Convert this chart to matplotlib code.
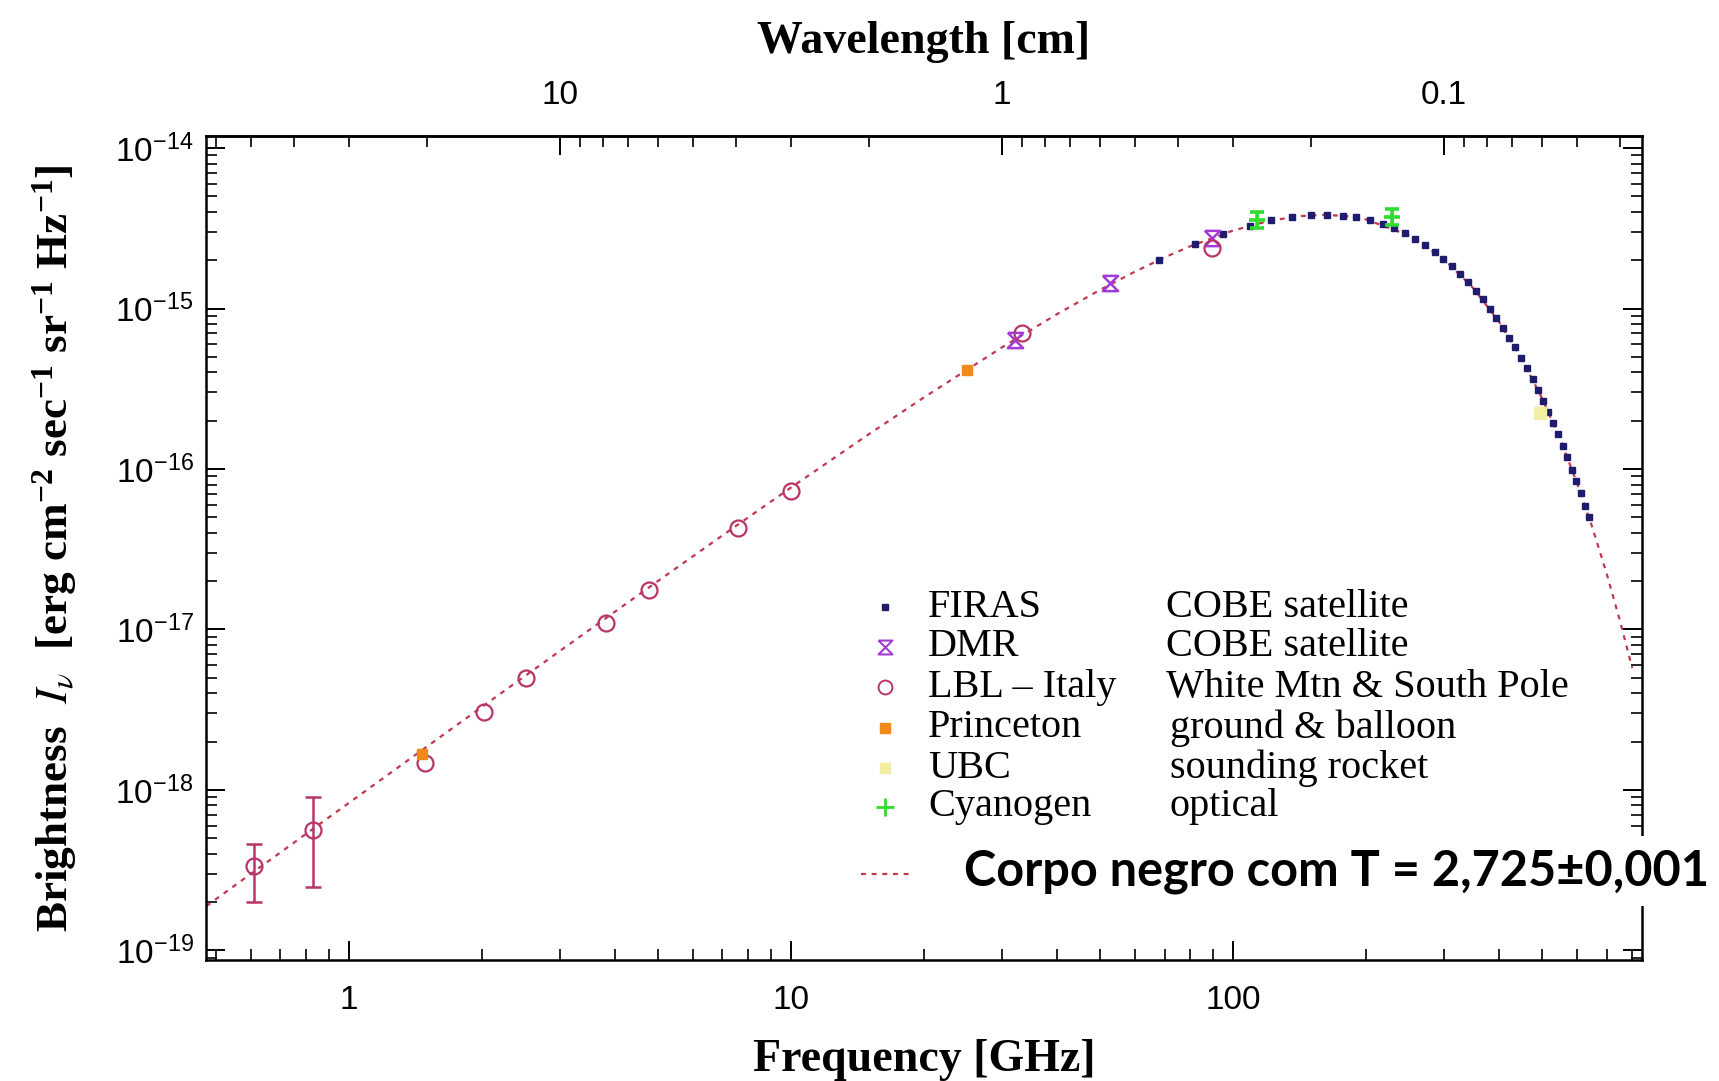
"""CMB spectrum: brightness vs frequency, with the T = 2.725 K blackbody curve."""

import numpy as np
import matplotlib
matplotlib.use("Agg")
import matplotlib.pyplot as plt
import matplotlib.ticker as mticker

C_GHZ_CM = 29.979  # c in GHz*cm, frequency <-> wavelength

# ── Data ────────────────────────────────────────────────────────────────
# dotted blackbody line
BB_FREQ = [0.476, 0.6, 0.8, 1, 1.5, 2, 3, 5, 7, 10, 15, 20, 30, 40, 50, 60,
           70, 80, 100, 120, 140, 160, 180, 200, 250, 300, 350, 400, 450,
           500, 550, 600, 650, 700, 750, 800]
BB_BRIGHT = [1.889e-19, 2.998e-19, 5.320e-19, 8.299e-19, 1.859e-18, 3.290e-18,
             7.338e-18, 2.002e-17, 3.855e-17, 7.657e-17, 1.646e-16, 2.794e-16,
             5.719e-16, 9.227e-16, 1.305e-15, 1.697e-15, 2.081e-15, 2.442e-15,
             3.059e-15, 3.502e-15, 3.757e-15, 3.837e-15, 3.770e-15, 3.589e-15,
             2.855e-15, 2.031e-15, 1.334e-15, 8.241e-16, 4.860e-16, 2.764e-16,
             1.526e-16, 8.208e-17, 4.328e-17, 2.241e-17, 1.143e-17, 5.75e-18]

FIRAS_FREQ = [68, 82, 95, 109, 122, 136, 150, 163, 177, 190, 204, 218, 231,
              245, 258, 272, 286, 299, 313, 326, 340, 354, 367, 381, 394, 408,
              422, 435, 449, 462, 476, 490, 503, 517, 530, 544, 558, 571, 585,
              598, 612, 626, 639]
FIRAS_BRIGHT = [2.005e-15, 2.511e-15, 2.920e-15, 3.281e-15, 3.536e-15, 3.720e-15,
                3.817e-15, 3.835e-15, 3.789e-15, 3.692e-15, 3.543e-15, 3.359e-15,
                3.165e-15, 2.939e-15, 2.722e-15, 2.486e-15, 2.255e-15, 2.046e-15,
                1.833e-15, 1.645e-15, 1.458e-15, 1.285e-15, 1.139e-15, 9.954e-16,
                8.753e-16, 7.594e-16, 6.566e-16, 5.720e-16, 4.916e-16, 4.260e-16,
                3.641e-16, 3.104e-16, 2.671e-16, 2.266e-16, 1.942e-16, 1.641e-16,
                1.384e-16, 1.180e-16, 9.915e-17, 8.424e-17, 7.057e-17, 5.902e-17,
                4.991e-17]

DMR_FREQ = [32.1, 52.7, 89.5]
DMR_BRIGHT = [6.37e-16, 1.44e-15, 2.74e-15]

LBL_FREQ = [0.61, 0.83, 1.49, 2.02, 2.51, 3.82, 4.77, 7.58, 10.0, 33.3, 89.5]
LBL_BRIGHT = [3.36e-19, 5.6e-19, 1.47e-18, 3.05e-18, 5.0e-18, 1.10e-17,
              1.77e-17, 4.27e-17, 7.29e-17, 7.02e-16, 2.38e-15]
# the two lowest LBL points carry visible error bars
LBL_BAR_FREQ = [0.61, 0.83]
LBL_BAR_BRIGHT = [3.36e-19, 5.6e-19]
LBL_BAR_LOW = [2.0e-19, 2.5e-19]
LBL_BAR_HIGH = [4.6e-19, 9.0e-19]

PRINCETON_FREQ = [1.46, 25.0]
PRINCETON_BRIGHT = [1.68e-18, 4.14e-16]

UBC_FREQ = [495]
UBC_BRIGHT = [2.23e-16]

CYANOGEN_FREQ = [113.1, 228.6]
CYANOGEN_BRIGHT = [3.56e-15, 3.73e-15]
CYANOGEN_LOW = [3.17e-15, 3.32e-15]
CYANOGEN_HIGH = [3.99e-15, 4.18e-15]

FREQ_TICKS = [1, 10, 100]
BRIGHT_TICKS = [1e-19, 1e-18, 1e-17, 1e-16, 1e-15, 1e-14]
WAVELENGTH_TICKS = [10, 1, 0.1]

LEGEND_NAMES = ["FIRAS", "DMR", "LBL \u2013 Italy", "Princeton", "UBC", "Cyanogen"]
LEGEND_SOURCES = ["COBE satellite", "COBE satellite", "White Mtn & South Pole",
                  "ground & balloon", "sounding rocket", "optical"]
BB_LABEL = "Corpo negro com T = 2,725\u00b10,001"

# ── Style ──────────────────────────────────────────────────────────────
C_FIRAS = "#1f1c6e"
C_DMR = "#a23bd6"
C_LBL = "#b8356a"
C_PRINCETON = "#f08a1c"
C_UBC = "#f3eea2"
C_CYAN = "#2fdc2f"
C_BB = "#c0394f"

HOURGLASS = [(-1, 1), (1, 1), (-1, -1), (1, -1), (-1, 1)]

SERIF = ["Liberation Serif", "DejaVu Serif"]
TICKFONT = ["Liberation Sans Narrow", "Liberation Sans"]

plt.rcParams["font.family"] = SERIF
plt.rcParams["mathtext.fontset"] = "stix"
plt.rcParams["axes.unicode_minus"] = False


def nu_to_lambda(x):
    x = np.asarray(x, dtype=float)
    with np.errstate(divide="ignore"):
        return C_GHZ_CM / x


def main():
    fig = plt.figure(figsize=(17.19, 10.81), dpi=100, facecolor="white")
    ax = fig.add_axes([0.11984, 0.11193, 0.95521 - 0.11984, 0.87419 - 0.11193])

    ax.set_xscale("log")
    ax.set_yscale("log")
    ax.set_xlim(0.475, 842)
    ax.set_ylim(10 ** -19.06, 10 ** -13.925)

    # blackbody line
    ax.plot(BB_FREQ, BB_BRIGHT, color=C_BB, linestyle=(0, (2.2, 2.6)),
            linewidth=1.6, zorder=2)

    # data sets
    ax.plot(FIRAS_FREQ, FIRAS_BRIGHT, linestyle="none", marker="s",
            markersize=4.2, color=C_FIRAS, zorder=4)
    ax.plot(DMR_FREQ, DMR_BRIGHT, linestyle="none", marker=HOURGLASS,
            markersize=11, markerfacecolor="none", markeredgecolor=C_DMR,
            markeredgewidth=1.8, zorder=4)
    ax.plot(LBL_FREQ, LBL_BRIGHT, linestyle="none", marker="o",
            markersize=11.5, markerfacecolor="none", markeredgecolor=C_LBL,
            markeredgewidth=1.6, zorder=4)
    bar_lo = np.array(LBL_BAR_BRIGHT) - np.array(LBL_BAR_LOW)
    bar_hi = np.array(LBL_BAR_HIGH) - np.array(LBL_BAR_BRIGHT)
    ax.errorbar(LBL_BAR_FREQ, LBL_BAR_BRIGHT, yerr=[bar_lo, bar_hi],
                fmt="none", ecolor=C_LBL, elinewidth=1.8, capsize=6,
                capthick=1.8, zorder=3)
    ax.plot(PRINCETON_FREQ, PRINCETON_BRIGHT, linestyle="none", marker="s",
            markersize=7, color=C_PRINCETON, zorder=4)
    ax.plot(UBC_FREQ, UBC_BRIGHT, linestyle="none", marker="s",
            markersize=8, color=C_UBC, zorder=4)
    cy_lo = np.array(CYANOGEN_BRIGHT) - np.array(CYANOGEN_LOW)
    cy_hi = np.array(CYANOGEN_HIGH) - np.array(CYANOGEN_BRIGHT)
    ax.errorbar(CYANOGEN_FREQ, CYANOGEN_BRIGHT, yerr=[cy_lo, cy_hi],
                fmt="+", color=C_CYAN, markersize=12, markeredgewidth=2.6,
                elinewidth=1.8, capsize=5, capthick=1.8, zorder=5)

    # ── axes formatting ───────────────────────────────────────────────
    for sp in ax.spines.values():
        sp.set_linewidth(1.8)

    ax.xaxis.set_major_locator(mticker.FixedLocator(FREQ_TICKS))
    ax.yaxis.set_major_locator(mticker.FixedLocator(BRIGHT_TICKS))
    ax.xaxis.set_minor_locator(mticker.LogLocator(subs=np.arange(2, 10), numticks=20))
    ax.yaxis.set_minor_locator(mticker.LogLocator(subs=np.arange(2, 10), numticks=20))
    ax.xaxis.set_major_formatter(mticker.FuncFormatter(lambda v, _: f"{v:g}"))
    ax.yaxis.set_major_formatter(mticker.LogFormatterSciNotation())
    ax.xaxis.set_minor_formatter(mticker.NullFormatter())
    ax.yaxis.set_minor_formatter(mticker.NullFormatter())

    ax.tick_params(which="both", direction="in", top=False, right=True,
                   labelsize=24, labelfontfamily=TICKFONT)
    ax.tick_params(which="major", length=14, width=1.4)
    ax.tick_params(which="minor", length=8, width=1.2)
    ax.tick_params(axis="x", pad=18)
    ax.tick_params(axis="y", pad=9)

    ax.set_xlabel("Frequency [GHz]", fontsize=33, fontweight="bold")
    ax.xaxis.set_label_coords(0.5, -0.096)
    ax.set_ylabel(r"Brightness  $I_\nu$  [erg cm$\mathdefault{^{-2}}$ sec$\mathdefault{^{-1}}$ "
                  r"sr$\mathdefault{^{-1}}$ Hz$\mathdefault{^{-1}}$]",
                  fontsize=32.5, fontweight="bold")
    ax.yaxis.set_label_coords(-0.0885, 0.5)

    # wavelength axis on top
    sec = ax.secondary_xaxis("top", functions=(nu_to_lambda, nu_to_lambda))
    sec.set_xticks(WAVELENGTH_TICKS)
    sec.xaxis.set_major_formatter(mticker.FuncFormatter(lambda v, _: f"{v:g}"))
    sec.xaxis.set_minor_locator(mticker.LogLocator(subs=np.arange(2, 10), numticks=20))
    sec.xaxis.set_minor_formatter(mticker.NullFormatter())
    sec.tick_params(which="both", direction="in", labelsize=24,
                    labelfontfamily=TICKFONT, pad=18)
    sec.tick_params(which="major", length=14, width=1.4)
    sec.tick_params(which="minor", length=8, width=1.2)
    sec.spines["top"].set_linewidth(1.8)
    sec.set_xlabel("Wavelength [cm]", fontsize=33, fontweight="bold")
    sec.xaxis.set_label_coords(0.5, 1.1007, transform=ax.transAxes)

    # ── hand-built legend ─────────────────────────────────────────────
    rows_y = [0.4284, 0.3799, 0.3313, 0.2816, 0.2330, 0.1857]
    src_x = [0.6685, 0.6685, 0.6685, 0.6713, 0.6713, 0.6713]
    glyphs = [
        dict(marker="s", markersize=4.5, color=C_FIRAS),
        dict(marker=HOURGLASS, markersize=10, markerfacecolor="none",
             markeredgecolor=C_DMR, markeredgewidth=1.5),
        dict(marker="o", markersize=10, markerfacecolor="none",
             markeredgecolor=C_LBL, markeredgewidth=1.4),
        dict(marker="s", markersize=7, color=C_PRINCETON),
        dict(marker="s", markersize=7, color=C_UBC),
        dict(marker="+", markersize=13, markeredgewidth=2.0, color=C_CYAN),
    ]
    for y, name, src, sx, g in zip(rows_y, LEGEND_NAMES, LEGEND_SOURCES, src_x, glyphs):
        ax.plot([0.4728], [y], transform=ax.transAxes, linestyle="none",
                clip_on=False, zorder=6, **g)
        ax.text(0.5028, y, name, transform=ax.transAxes, fontsize=29,
                va="center", ha="left", zorder=6)
        ax.text(sx, y, src, transform=ax.transAxes, fontsize=29,
                va="center", ha="left", zorder=6)

    ax.plot([0.4561, 0.4903], [0.1044, 0.1044], transform=ax.transAxes,
            color=C_BB, linestyle=(0, (2.2, 2.6)), linewidth=1.6, zorder=6)
    ax.text(0.5279, 0.1080, BB_LABEL, transform=ax.transAxes,
            fontsize=35, fontweight="bold", family=["Lato", "DejaVu Sans"],
            va="center", ha="left", clip_on=False, zorder=10,
            bbox=dict(boxstyle="square,pad=0.25", facecolor="white", edgecolor="none"))

    fig.savefig("out.png", dpi=100, facecolor="white")
    plt.close(fig)


if __name__ == "__main__":
    main()
